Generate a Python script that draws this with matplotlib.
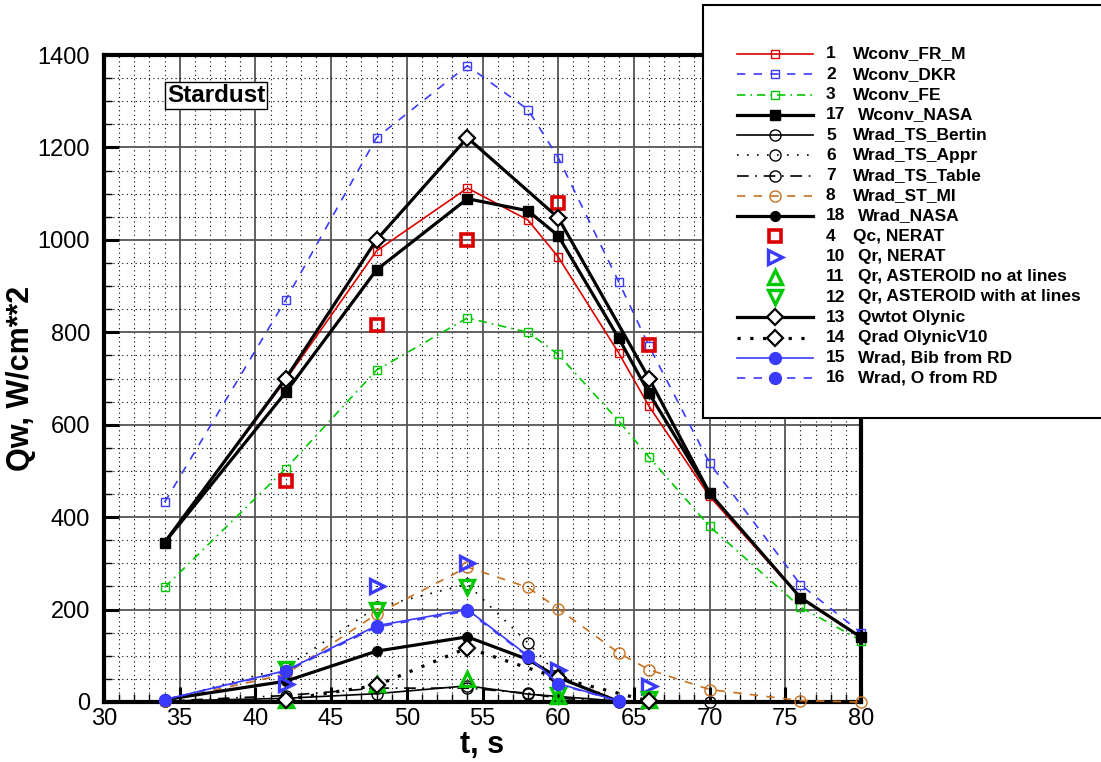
import matplotlib

matplotlib.use('Agg')
import matplotlib.pyplot as plt
from matplotlib.lines import Line2D
from matplotlib.patches import Rectangle
from matplotlib.ticker import MultipleLocator

plt.rcParams['font.family'] = ['Liberation Sans', 'DejaVu Sans']

# time points, s
t_conv = [34, 42, 48, 54, 58, 60, 64, 66, 70, 76, 80]
t_rad = [34, 42, 48, 54, 58, 60, 64]
t_bertin = [34, 42, 48, 54, 58, 64, 70]
t_oly = [34, 42, 48, 54, 60, 66, 70]
t_exp = [42, 48, 54, 60, 66]
t_oly10 = [42, 48, 54, 60, 66]

# convective heat flux, W/cm**2
wconv_fr_m = [345, 697, 976, 1112, 1043, 963, 755, 640, 445, 225, 140]
wconv_dkr = [432, 870, 1221, 1377, 1282, 1178, 909, 770, 517, 254, 150]
wconv_fe = [248, 505, 718, 831, 800, 752, 608, 530, 380, 205, 133]
wconv_nasa = [345, 670, 935, 1089, 1063, 1009, 787, 668, 452, 226, 140]

# radiative heat flux, W/cm**2
wrad_ts_bertin = [2, 8, 18, 35, 17, 2, 0]
wrad_ts_appr = [3, 75, 205, 255, 128, 58, 2]
wrad_ts_table = [2, 14, 30, 30, 19, 8, 1]
wrad_st_mi = [2, 60, 190, 292, 248, 202, 106, 70, 27, 3, 0]
wrad_nasa = [5, 45, 110, 141, 92, 53, 1]
wrad_bib_rd = [5, 68, 165, 200, 100, 40, 2]
wrad_o_rd = [5, 66, 162, 197, 98, 38, 2]

# NERAT / ASTEROID / Olynic
qc_nerat = [478, 815, 1000, 1080, 772]
qr_nerat = [38, 252, 300, 70, 34]
qr_ast_no = [5, 38, 50, 12, 5]
qr_ast_with = [72, 200, 248, 16, 6]
qwtot_olynic = [345, 700, 1000, 1221, 1048, 700, 452]
qrad_olynic_v10 = [5, 36, 117, 52, 2]

RED = '#dd0000'
BLUE = '#3a3aff'
GREEN = '#00c800'
ORANGE = '#c87020'

thin = 1.2
thick = 2.3
dashed = (0, (5, 5))
dashdot = (0, (5, 3, 1, 3))
dotted = (0, (1, 5))
longdashdot = (0, (7, 4, 1, 4))
thickdot = (0, (1, 3))

open_sq = dict(marker='s', ms=5.5, mfc='none', mew=1.0)
open_ci = dict(marker='o', ms=8, mfc='none', mew=1.0)

# (number, name, x, y, style) in legend order
series = [
    ('1', 'Wconv_FR_M', t_conv, wconv_fr_m,
     dict(color=RED, lw=thin, ls='-', **open_sq)),
    ('2', 'Wconv_DKR', t_conv, wconv_dkr,
     dict(color=BLUE, lw=thin, ls=dashed, **open_sq)),
    ('3', 'Wconv_FE', t_conv, wconv_fe,
     dict(color=GREEN, lw=thin, ls=dashdot, **open_sq)),
    ('17', 'Wconv_NASA', t_conv, wconv_nasa,
     dict(color='k', lw=thick, ls='-', marker='s', ms=7)),
    ('5', 'Wrad_TS_Bertin', t_bertin, wrad_ts_bertin,
     dict(color='k', lw=thin, ls='-', **open_ci)),
    ('6', 'Wrad_TS_Appr', t_rad, wrad_ts_appr,
     dict(color='k', lw=thin, ls=dotted, **open_ci)),
    ('7', 'Wrad_TS_Table', t_rad, wrad_ts_table,
     dict(color='k', lw=thin, ls=longdashdot, **open_ci)),
    ('8', 'Wrad_ST_MI', t_conv, wrad_st_mi,
     dict(color=ORANGE, lw=thin, ls=dashed, **open_ci)),
    ('18', 'Wrad_NASA', t_rad, wrad_nasa,
     dict(color='k', lw=thick, ls='-', marker='o', ms=7)),
    ('4', 'Qc, NERAT', t_exp, qc_nerat,
     dict(color=RED, ls='none', marker='s', ms=8.5, mfc='none', mew=2.6)),
    ('10', 'Qr, NERAT', t_exp, qr_nerat,
     dict(color=BLUE, ls='none', marker='>', ms=10, mfc='none', mew=2.4)),
    ('11', 'Qr, ASTEROID no at lines', t_exp, qr_ast_no,
     dict(color=GREEN, ls='none', marker='^', ms=10, mfc='none', mew=2.4)),
    ('12', 'Qr, ASTEROID with at lines', t_exp, qr_ast_with,
     dict(color=GREEN, ls='none', marker='v', ms=10, mfc='none', mew=2.4)),
    ('13', 'Qwtot Olynic', t_oly, qwtot_olynic,
     dict(color='k', lw=thick, ls='-', marker='D', ms=8, mfc='white', mew=1.6,
          markevery=[1, 2, 3, 4, 5])),
    ('14', 'Qrad OlynicV10', t_oly10, qrad_olynic_v10,
     dict(color='k', lw=thick, ls=thickdot, marker='D', ms=8, mfc='white', mew=1.6)),
    ('15', 'Wrad, Bib from RD', t_rad, wrad_bib_rd,
     dict(color=BLUE, lw=thin, ls='-', marker='o', ms=8.5)),
    ('16', 'Wrad, O from RD', t_rad, wrad_o_rd,
     dict(color=BLUE, lw=thin, ls=dashed, marker='o', ms=8.5)),
]

W, H = 1101, 762
fig = plt.figure(figsize=(W / 100, H / 100), dpi=100)
ax = fig.add_axes([104 / W, 1 - 702 / H, (861 - 104) / W, (702 - 55) / H])

for num, name, x, y, style in series:
    ax.plot(x, y, clip_on=False, zorder=3, **style)

ax.set_xlim(30, 80)
ax.set_ylim(0, 1400)
ax.xaxis.set_major_locator(MultipleLocator(5))
ax.xaxis.set_minor_locator(MultipleLocator(1))
ax.yaxis.set_major_locator(MultipleLocator(200))
ax.yaxis.set_minor_locator(MultipleLocator(50))

ax.set_axisbelow(True)
ax.grid(which='major', color='#555555', lw=1.3, ls='-')
ax.grid(which='minor', color='k', lw=0.8, ls=(0, (1, 3)))

ax.tick_params(which='major', direction='in', length=11, width=2.2,
               labelsize=17, top=False, right=False)
ax.tick_params(axis='y', which='major', pad=10)
ax.tick_params(axis='x', which='major', pad=4)
ax.tick_params(which='minor', direction='in', length=6, width=1,
               top=False, right=False)
for sp in ax.spines.values():
    sp.set_linewidth(3)

ax.set_xlabel('t, s', fontsize=22, fontweight='bold')
ax.set_ylabel('Qw, W/cm**2', fontsize=22, fontweight='bold')
ax.xaxis.set_label_coords(0.5, -0.044)
ax.yaxis.set_label_coords(-0.09, 0.5)

ax.text(37.4, 1312, 'Stardust', fontsize=17.5, fontweight='bold',
        ha='center', va='center',
        bbox=dict(boxstyle='square,pad=0.08', fc='white', ec='black', lw=1))

# legend box, drawn by hand to match the Tecplot layout
fig.add_artist(Rectangle((703 / W, 1 - 418 / H), (W - 703) / W + 0.01, (418 - 5) / H,
                         transform=fig.transFigure, fc='white', ec='black', lw=1.5,
                         clip_on=False))
row_step = (378 - 54) / (len(series) - 1)
for i, (num, name, x, y, style) in enumerate(series):
    fy = 1 - (54 + i * row_step) / H
    st = dict(style)
    st.pop('markevery', None)
    marker_keys = ('marker', 'ms', 'mfc', 'mew')
    line_st = {k: v for k, v in st.items() if k not in marker_keys}
    mark_st = {k: v for k, v in st.items() if k in marker_keys}
    if line_st.get('ls') != 'none':
        fig.add_artist(Line2D([737 / W, 813 / W], [fy, fy], transform=fig.transFigure,
                              **line_st))
    fig.add_artist(Line2D([775 / W], [fy], transform=fig.transFigure, ls='none',
                          color=st['color'], **mark_st))
    fig.text(826 / W, fy, num, fontsize=12.5, fontweight='bold', va='center')
    fig.text((853 if len(num) == 1 else 858) / W, fy, name, fontsize=12.5,
             fontweight='bold', va='center')

fig.savefig('out.png', dpi=100)
plt.close(fig)
